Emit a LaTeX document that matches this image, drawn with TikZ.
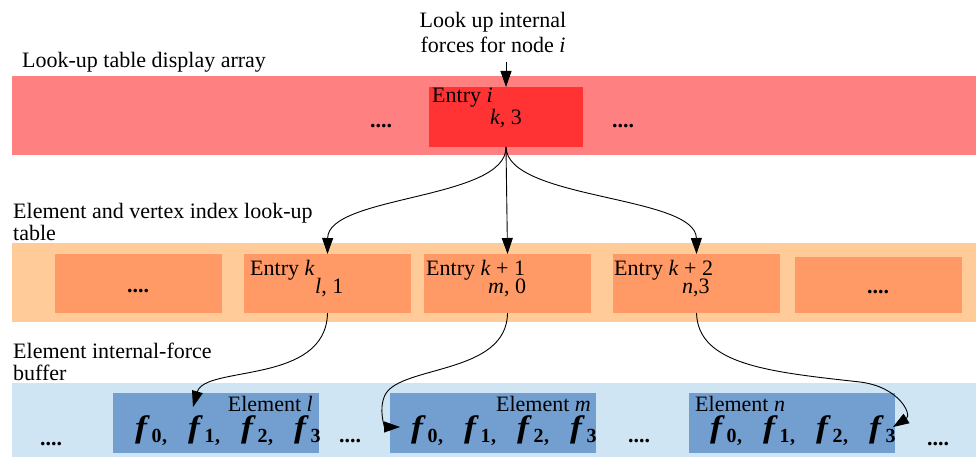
\documentclass[tikz,border=0pt]{standalone}
\usepackage{fontspec}
\setmainfont{Liberation Serif}
\usetikzlibrary{arrows.meta}
\definecolor{redband}{HTML}{FF8080}
\definecolor{redbox}{HTML}{FF3333}
\definecolor{orband}{HTML}{FFCC99}
\definecolor{orbox}{HTML}{FF9966}
\definecolor{blband}{HTML}{CFE5F3}
\definecolor{blbox}{HTML}{729FCF}
\newcommand{\myF}[2]{\raisebox{5pt}{\scalebox{1.15}[1]{\fontsize{31}{31}\selectfont\bfseries\itshape f}}\kern4.5pt{\fontsize{20}{20}\selectfont\bfseries #1}\kern0.5pt{\fontsize{20}{20}\selectfont\bfseries #2}}
\begin{document}
\begin{tikzpicture}[x=1pt,y=-1pt,
  band/.style={inner sep=0pt, outer sep=0pt, anchor=north west, minimum width=964pt},
  box/.style={inner sep=0pt, outer sep=0pt, anchor=north west},
  txt/.style={inner sep=0pt, anchor=base west, font=\fontsize{22}{24}\selectfont},
  ctxt/.style={txt, anchor=base},
  rtxt/.style={txt, anchor=base east},
  dots/.style={txt, font=\fontsize{22}{24}\selectfont\bfseries},
  ftxt/.style={inner sep=0pt, anchor=base west},
  arr/.style={line width=0.9pt, -{Triangle[length=16pt,width=11pt]}}]
\useasboundingbox (0,0) rectangle (976,457);
% bands
\node[band, fill=redband, minimum height=79pt] (rb) at (12,76) {};
\node[band, fill=orband, minimum height=79pt] (ob) at (12,243) {};
\node[band, fill=blband, minimum height=74pt] (bb) at (12,383) {};
% boxes
\node[box, fill=redbox, minimum width=154pt, minimum height=60pt] (ei) at (429,87) {};
\node[box, fill=orbox, minimum width=167pt, minimum height=59pt] (od1) at (55,254) {};
\node[box, fill=orbox, minimum width=167pt, minimum height=59pt] (ek) at (244,254) {};
\node[box, fill=orbox, minimum width=167pt, minimum height=59pt] (ek1) at (424,254) {};
\node[box, fill=orbox, minimum width=167pt, minimum height=59pt] (ek2) at (613,254) {};
\node[box, fill=orbox, minimum width=167pt, minimum height=56pt] (od2) at (795,257) {};
\node[box, fill=blbox, minimum width=206pt, minimum height=60pt] (el) at (113,393) {};
\node[box, fill=blbox, minimum width=206pt, minimum height=60pt] (em) at (390,393) {};
\node[box, fill=blbox, minimum width=206pt, minimum height=60pt] (en) at (689,393) {};
% section labels
\node[txt] (lab1) at (22,68) {Look-up table display array};
\node[txt] (lab2a) at (13,218) {Element and vertex index look-up};
\node[txt] (lab2b) at (13,240) {table};
\node[txt] (lab3a) at (13,358) {Element internal-force};
\node[txt] (lab3b) at (13,380) {buffer};
\node[ctxt] (q1) at (493,28) {Look up internal};
\node[ctxt] (q2) at (493,53) {forces for node \textit{i}};
% entry texts
\node[txt] (tei1) at (432,103) {Entry \textit{i}};
\node[txt] (tei2) at (490,125) {\textit{k}, 3};
\node[txt] (tek1) at (250,275) {Entry \textit{k}};
\node[txt] (tek2) at (315,293) {\textit{l}, 1};
\node[txt] (tekk1) at (426,275) {Entry \textit{k} + 1};
\node[txt] (tekk2) at (488,293) {\textit{m}, 0};
\node[txt] (tekkk1) at (614,275) {Entry \textit{k} + 2};
\node[txt] (tekkk2) at (682,293) {\textit{n},3};
% dots
\node[dots, anchor=base] (d1) at (138,292) {....};
\node[dots, anchor=base] (d2) at (878,293) {....};
\node[dots] (d3) at (370,128) {....};
\node[dots] (d4) at (612,128) {....};
\node[dots] (d5) at (40,445) {....};
\node[dots] (d6) at (339,442) {....};
\node[dots] (d7) at (628,442) {....};
\node[dots] (d8) at (927,445) {....};
% element labels
\node[rtxt] (tel) at (313,411) {Element \textit{l}};
\node[rtxt] (tem) at (591,411) {Element \textit{m}};
\node[txt] (ten) at (695,411) {Element \textit{n}};
% force rows
\foreach \bx/\nm in {135/l,411/m,710/n}{
  \node[ftxt] (\nm f0) at (\bx,442) {\myF{0}{,}};
  \node[ftxt] (\nm f1) at (\bx+53,442) {\myF{1}{,}};
  \node[ftxt] (\nm f2) at (\bx+106,442) {\myF{2}{,}};
  \node[ftxt] (\nm f3) at (\bx+159,442) {\myF{3}{}};
}
% connectors
\coordinate (qs) at (506,62);
\draw[arr] (qs) -- (ei.north);
\draw[arr] (ei.south) .. controls (507,200) and (328,195) .. (ek.north);
\draw[arr] (ei.south) -- (ek1.north);
\draw[arr] (ei.south) .. controls (507,200) and (696,195) .. (ek2.north);
\coordinate (tl) at (193,407);
\coordinate (tm) at (400,427);
\coordinate (tn) at (893,427);
\draw[arr] (ek.south) .. controls (326,385) and (205,365) .. (tl);
\draw[arr] (ek1.south) .. controls (507,375) and (400,365) .. (385,395) .. controls (378,410) and (385,427) .. (tm);
\draw[arr] (ek2.south) .. controls (698,365) and (770,372) .. (860,382) .. controls (900,387) and (912,415) .. (tn);
\end{tikzpicture}
\end{document}
